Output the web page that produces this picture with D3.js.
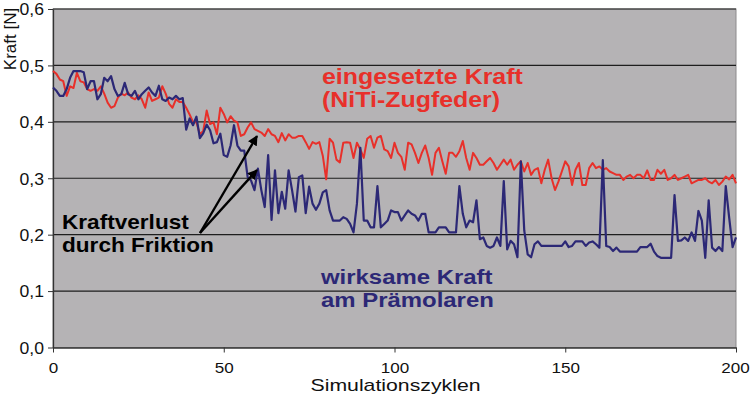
<!DOCTYPE html>
<html>
<head>
<meta charset="utf-8">
<script src="https://cdn.jsdelivr.net/npm/d3@7"></script>
<style>
  body { margin: 0; background: #ffffff; }
  text { font-family: "Liberation Sans", Arial, sans-serif; }
</style>
</head>
<body>
<div id="chart"></div>
<script>
// ### data
// one value per simulation cycle (0..200)
var cycles_max = 200;

var applied_force = [
  0.49, 0.485, 0.475, 0.472, 0.446, 0.463, 0.46, 0.487, 0.472, 0.47,
  0.458, 0.455, 0.458, 0.455, 0.463, 0.45, 0.434, 0.425, 0.428, 0.443,
  0.45, 0.447, 0.452, 0.443, 0.44, 0.447, 0.44, 0.425, 0.452, 0.437,
  0.44, 0.443, 0.463, 0.45, 0.432, 0.425, 0.44, 0.435, 0.435, 0.425,
  0.413, 0.40, 0.399, 0.378, 0.384, 0.42, 0.396, 0.399, 0.378, 0.425,
  0.414, 0.399, 0.41, 0.402, 0.399, 0.375, 0.378, 0.39, 0.399, 0.387,
  0.384, 0.381, 0.375, 0.387, 0.378, 0.375, 0.364, 0.38, 0.367, 0.378,
  0.372, 0.372, 0.375, 0.375, 0.364, 0.352, 0.364, 0.361, 0.364, 0.34,
  0.298, 0.37, 0.363, 0.333, 0.328, 0.363, 0.364, 0.363, 0.336, 0.363,
  0.351, 0.336, 0.37, 0.375, 0.354, 0.372, 0.375, 0.351, 0.348, 0.336,
  0.363, 0.345, 0.338, 0.315, 0.363, 0.36, 0.345, 0.327, 0.345, 0.358,
  0.336, 0.306, 0.345, 0.354, 0.33, 0.308, 0.345, 0.345, 0.338, 0.348,
  0.366, 0.336, 0.315, 0.345, 0.336, 0.324, 0.324, 0.33, 0.336, 0.327,
  0.315, 0.324, 0.333, 0.324, 0.333, 0.315, 0.324, 0.33, 0.312, 0.327,
  0.306, 0.315, 0.318, 0.291, 0.315, 0.333, 0.30, 0.279, 0.294, 0.312,
  0.33, 0.321, 0.288, 0.315, 0.327, 0.288, 0.288, 0.318, 0.327, 0.318,
  0.321, 0.315, 0.318, 0.312, 0.309, 0.306, 0.306, 0.297, 0.303, 0.306,
  0.30, 0.306, 0.306, 0.30, 0.314, 0.297, 0.297, 0.315, 0.308, 0.315,
  0.297, 0.30, 0.306, 0.297, 0.30, 0.303, 0.306, 0.291, 0.294, 0.297,
  0.297, 0.30, 0.294, 0.291, 0.297, 0.288, 0.294, 0.303, 0.298, 0.306,
  0.291
];

var effective_force = [
  0.461, 0.455, 0.446, 0.446, 0.458, 0.478, 0.49, 0.49, 0.49, 0.488,
  0.458, 0.472, 0.472, 0.44, 0.449, 0.478, 0.472, 0.481, 0.458, 0.446,
  0.449, 0.469, 0.449, 0.446, 0.455, 0.44, 0.449, 0.455, 0.461, 0.452,
  0.446, 0.464, 0.44, 0.437, 0.443, 0.44, 0.446, 0.44, 0.442, 0.386,
  0.406, 0.394, 0.409, 0.371, 0.38, 0.395, 0.385, 0.362, 0.364, 0.379,
  0.341, 0.338, 0.358, 0.394, 0.358, 0.349, 0.349, 0.302, 0.296, 0.279,
  0.317, 0.279, 0.249, 0.341, 0.226, 0.314, 0.238, 0.276, 0.246, 0.314,
  0.279, 0.241, 0.302, 0.305, 0.238, 0.285, 0.255, 0.244, 0.255, 0.275,
  0.279, 0.243, 0.225, 0.225, 0.225, 0.231, 0.228, 0.219, 0.204, 0.255,
  0.354, 0.225, 0.225, 0.213, 0.213, 0.286, 0.213, 0.219, 0.225, 0.243,
  0.24, 0.24, 0.225, 0.234, 0.243, 0.237, 0.234, 0.225, 0.237, 0.237,
  0.204, 0.204, 0.204, 0.213, 0.213, 0.213, 0.204, 0.204, 0.204, 0.286,
  0.237, 0.213, 0.225, 0.222, 0.261, 0.192, 0.195, 0.18, 0.177, 0.18,
  0.195, 0.18, 0.295, 0.174, 0.189, 0.183, 0.16, 0.33, 0.207, 0.165,
  0.16, 0.183, 0.188, 0.18, 0.18, 0.18, 0.18, 0.18, 0.18, 0.18,
  0.188, 0.178, 0.18, 0.188, 0.188, 0.188, 0.18, 0.186, 0.188, 0.183,
  0.177, 0.332, 0.18, 0.178, 0.171, 0.177, 0.17, 0.17, 0.17, 0.17,
  0.17, 0.17, 0.178, 0.178, 0.178, 0.184, 0.17, 0.162, 0.159, 0.159,
  0.159, 0.159, 0.27, 0.189, 0.19, 0.195, 0.189, 0.204, 0.189, 0.242,
  0.225, 0.159, 0.261, 0.177, 0.171, 0.178, 0.171, 0.286, 0.23, 0.178,
  0.195
];

var y_ticks = [0, 0.1, 0.2, 0.3, 0.4, 0.5, 0.6];
var x_ticks = [0, 50, 100, 150, 200];

// ### colours
var bg_color = "#b5b3b5";
var red_color = "#e8302a";
var blue_color = "#2c2876";

// ### set up the drawing surface
var width = 750, height = 397;
var plot = {left: 53, right: 736, top: 9, bottom: 347.5};
var stretch = 1.1; // the original picture is a little wider than tall

var svg = d3.select("#chart").append("svg")
  .attr("width", width)
  .attr("height", height);

var defs = svg.append("defs");
defs.append("marker")
  .attr("id", "arrow_head")
  .attr("viewBox", "0 0 10 10")
  .attr("refX", 9).attr("refY", 5)
  .attr("markerWidth", 4.2).attr("markerHeight", 4.2)
  .attr("orient", "auto")
  .append("path")
  .attr("d", "M0,0 L10,5 L0,10 Z")
  .attr("fill", "#000");

var x = d3.scaleLinear().domain([0, cycles_max]).range([plot.left, plot.right]);
var y = d3.scaleLinear().domain([0, 0.6]).range([plot.bottom, plot.top]);

// background panel
svg.append("rect")
  .attr("x", plot.left).attr("y", plot.top)
  .attr("width", plot.right - plot.left)
  .attr("height", plot.bottom - plot.top)
  .attr("fill", bg_color)
  .attr("stroke", "#8c8a8c")
  .attr("stroke-width", 1);

// horizontal grid lines
svg.append("g").selectAll("line")
  .data(y_ticks.filter(function(d){ return d > 0; }))
  .enter().append("line")
  .attr("x1", plot.left).attr("x2", plot.right)
  .attr("y1", function(d){ return y(d); })
  .attr("y2", function(d){ return y(d); })
  .attr("stroke", "#1e1e1e")
  .attr("stroke-width", 1.2);

// small helper to draw text stretched horizontally like the original
function stretched_text(parent, px, py, str, anchor, sx){
  return parent.append("text")
    .attr("transform", "translate(" + px + "," + py + ") scale(" + (sx || stretch) + ",1)")
    .attr("text-anchor", anchor || "start")
    .text(str);
}

// y axis
var y_axis = svg.append("g")
  .attr("transform", "translate(" + plot.left + ",0)")
  .call(d3.axisLeft(y).tickValues(y_ticks).tickSize(5).tickSizeOuter(0)
    .tickFormat(function(d){ return d3.format(".1f")(d).replace(".", ","); }));
y_axis.select(".domain").attr("stroke", "#333").attr("stroke-width", 1.3);
y_axis.selectAll(".tick line").attr("stroke", "#333");
y_axis.selectAll(".tick text")
  .attr("font-size", 16)
  .attr("fill", "#111")
  .attr("dy", "0.36em")
  .attr("transform", "scale(" + stretch + ",1)")
  .attr("x", -9 / stretch);

// x axis
var x_axis = svg.append("g")
  .attr("transform", "translate(0," + plot.bottom + ")")
  .call(d3.axisBottom(x).tickValues(x_ticks).tickSize(5).tickSizeOuter(0));
x_axis.select(".domain").attr("stroke", "#333").attr("stroke-width", 1.3);
x_axis.selectAll(".tick line").attr("stroke", "#333");
x_axis.selectAll(".tick text")
  .attr("font-size", 15.5)
  .attr("fill", "#111")
  .attr("y", 14)
  .attr("dy", "0.71em")
  .attr("transform", "scale(" + stretch + ",1)");
// keep the last label inside the picture
x_axis.selectAll(".tick")
  .filter(function(d){ return d === cycles_max; })
  .select("text")
  .attr("x", -1);

// axis titles
var titles = svg.append("g").attr("fill", "#111");
stretched_text(titles, (plot.left + plot.right) / 2 + 1, 391, "Simulationszyklen", "middle", 1.25)
  .attr("font-size", 17);
titles.append("text")
  .attr("transform", "translate(16,39) rotate(-90)")
  .attr("text-anchor", "middle")
  .attr("font-size", 17)
  .text("Kraft [N]");

// ### the two series
var line = d3.line()
  .x(function(d, i){ return x(i); })
  .y(function(d){ return y(d); });

svg.append("path")
  .datum(applied_force)
  .attr("d", line)
  .attr("fill", "none")
  .attr("stroke", red_color)
  .attr("stroke-width", 2)
  .attr("stroke-linejoin", "round");

svg.append("path")
  .datum(effective_force)
  .attr("d", line)
  .attr("fill", "none")
  .attr("stroke", blue_color)
  .attr("stroke-width", 2.2)
  .attr("stroke-linejoin", "round");

// ### annotations
var notes = svg.append("g").attr("font-weight", "bold");

var red_note = notes.append("g").attr("fill", red_color).attr("font-size", 21.5);
stretched_text(red_note, 322, 84, "eingesetzte Kraft", "start", 1.16);
stretched_text(red_note, 322, 107, "(NiTi-Zugfeder)", "start", 1.16);

var loss_note = notes.append("g").attr("fill", "#000").attr("font-size", 20);
stretched_text(loss_note, 62, 229, "Kraftverlust", "start", 1.13);
stretched_text(loss_note, 62, 252, "durch Friktion", "start", 1.13);

var blue_note = notes.append("g").attr("fill", blue_color).attr("font-size", 21);
stretched_text(blue_note, 321, 284, "wirksame Kraft", "start", 1.14);
stretched_text(blue_note, 321, 307, "am Prämolaren", "start", 1.14);

// arrows from the friction label to the gap between the lines
var arrow_from = [200, 233];
var arrow_to = [[257, 136], [257, 170]];
svg.append("g").selectAll("line")
  .data(arrow_to)
  .enter().append("line")
  .attr("x1", arrow_from[0]).attr("y1", arrow_from[1])
  .attr("x2", function(d){ return d[0]; })
  .attr("y2", function(d){ return d[1]; })
  .attr("stroke", "#000")
  .attr("stroke-width", 2.4)
  .attr("marker-end", "url(#arrow_head)");
</script>
</body>
</html>
